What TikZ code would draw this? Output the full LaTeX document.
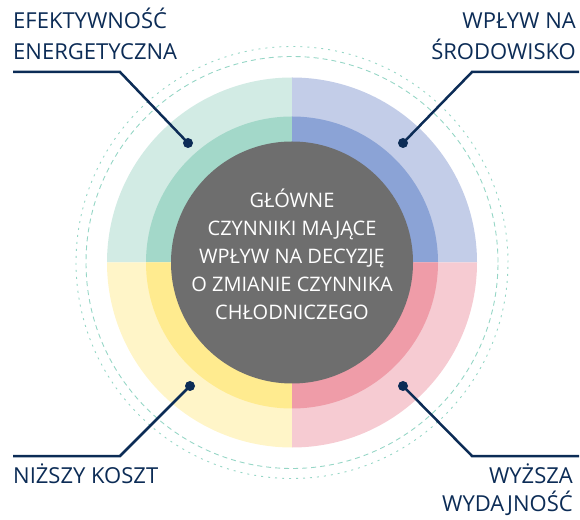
\documentclass[tikz,border=0pt]{standalone}
\usepackage{fontspec}
\setmainfont{Open Sans}
\usetikzlibrary{positioning, calc}

\definecolor{granat}{RGB}{12,44,86}
\definecolor{szary}{RGB}{110,110,110}
\definecolor{mieta}{RGB}{150,214,198}
\definecolor{zielJ}{RGB}{210,235,228}
\definecolor{zielC}{RGB}{163,216,201}
\definecolor{nieJ}{RGB}{195,205,232}
\definecolor{nieC}{RGB}{139,163,214}
\definecolor{zolJ}{RGB}{255,245,200}
\definecolor{zolC}{RGB}{255,235,143}
\definecolor{rozJ}{RGB}{246,203,210}
\definecolor{rozC}{RGB}{239,156,168}

\begin{document}
\begin{tikzpicture}[
            x=1pt, y=1pt,
            etykieta/.style={font=\fontsize{22}{31}\selectfont, text=granat, inner sep=0pt},
            odnosnik/.style={draw=granat, line width=2.5pt},
            kropka/.style={circle, fill=granat, minimum size=10pt, inner sep=0pt},
            kreski/.style={draw=mieta, line width=0.9pt, dash pattern=on 5pt off 4pt},
            kropki/.style={draw=mieta, line width=0.9pt, dash pattern=on 2pt off 5pt}
        ]
            \useasboundingbox (0,0) rectangle (580,519);
            \coordinate (srodek) at (292,256.5);

            % ćwiartki
            \foreach \start/\jasny/\ciemny in {90/zielJ/zielC, 0/nieJ/nieC, 180/zolJ/zolC, 270/rozJ/rozC} {
                \fill[\jasny] (srodek) -- ++(\start:185) arc[start angle=\start, delta angle=90, radius=185] -- cycle;
                \fill[\ciemny] (srodek) -- ++(\start:146) arc[start angle=\start, delta angle=90, radius=146] -- cycle;
            }

            % okręgi przerywane
            \draw[kreski] (srodek) circle[radius=206];
            \draw[kropki] (srodek) circle[radius=216];

            % środek
            \node[circle, fill=szary, minimum size=242pt, inner sep=0pt] (glowny) at (srodek) {};
            \node[text=white, align=center, font=\fontsize{20}{28}\selectfont] (opis) at ([yshift=8pt]glowny.center)
                {GŁÓWNE\\CZYNNIKI MAJĄCE\\WPŁYW NA DECYZJĘ\\O ZMIANIE CZYNNIKA\\CHŁODNICZEGO};

            % kropki i punkty załamania
            \node[kropka] (kropkaLG) at (188,376) {};
            \node[kropka] (kropkaPG) at (403,376) {};
            \node[kropka] (kropkaLD) at (190,133) {};
            \node[kropka] (kropkaPD) at (403,133) {};
            \coordinate (zalamanieLG) at (120,447);
            \coordinate (zalamaniePG) at (472,447);
            \coordinate (zalamanieLD) at (120,63);
            \coordinate (zalamaniePD) at (472,63);
            \coordinate (koniecLG) at (13,447);
            \coordinate (koniecPG) at (579,447);
            \coordinate (koniecLD) at (13,63);
            \coordinate (koniecPD) at (579,63);

            % linie odnośników
            \draw[odnosnik] (kropkaLG.center) -- (zalamanieLG) -- (koniecLG);
            \draw[odnosnik] (kropkaPG.center) -- (zalamaniePG) -- (koniecPG);
            \draw[odnosnik] (kropkaLD.center) -- (zalamanieLD) -- (koniecLD);
            \draw[odnosnik] (kropkaPD.center) -- (zalamaniePD) -- (koniecPD);

            % etykiety
            \node[etykieta, align=left, above right=12pt and 0pt of koniecLG] (efektywnosc) {EFEKTYWNOŚĆ\\ENERGETYCZNA};
            \node[etykieta, align=right, above left=12pt and 3pt of koniecPG] (srodowisko) {WPŁYW NA\\ŚRODOWISKO};
            \node[etykieta, align=left, below right=8pt and 0pt of koniecLD] (koszt) {NIŻSZY KOSZT};
            \node[etykieta, align=right, below left=8pt and 6pt of koniecPD, font=\fontsize{22}{28}\selectfont] (wydajnosc) {WYŻSZA\\WYDAJNOŚĆ};
          \end{tikzpicture}
\end{document}
